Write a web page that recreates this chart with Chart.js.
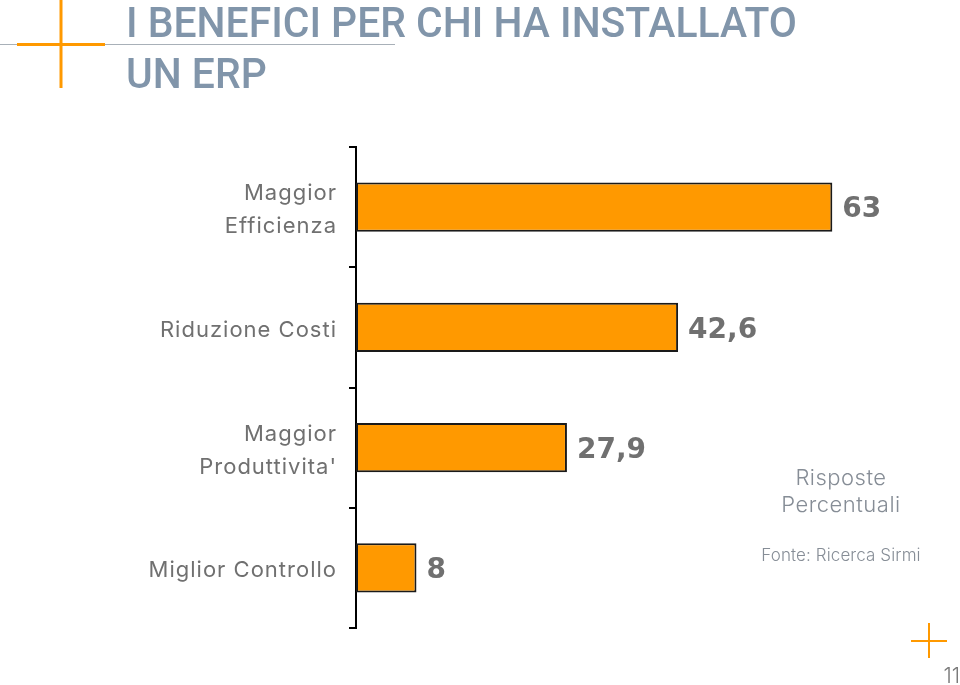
<!DOCTYPE html>
<html>
<head>
<meta charset="utf-8">
<script src="https://cdn.jsdelivr.net/npm/chart.js@4"></script>
<style>
html,body{margin:0;padding:0;background:#fff;}
#c{display:block;}
</style>
</head>
<body>
<canvas id="c" width="960" height="685"></canvas>
<script>
const categories = [["Maggior", "Efficienza"], "Riduzione Costi", ["Maggior", "Produttivita'"], "Miglior Controllo"];
const values = [63, 42.6, 27.9, 8];
const valueLabels = ["63", "42,6", "27,9", "8"];
const titleLines = ["I BENEFICI PER CHI HA INSTALLATO", "UN ERP"];
const noteLines = ["Risposte", "Percentuali"];
const sourceText = "Fonte: Ricerca Sirmi";
const pageNumber = "11";

const ORANGE = '#ff9900';

const decor = {
  id: 'decor',
  beforeDraw(chart) {
    const ctx = chart.ctx;
    ctx.save();
    ctx.fillStyle = '#fff';
    ctx.fillRect(0, 0, chart.width, chart.height);
    ctx.restore();
    ctx.letterSpacing = '1px';
  },
  afterDraw(chart) {
    const ctx = chart.ctx;
    ctx.save();
    ctx.letterSpacing = '0px';
    // grey rule
    ctx.strokeStyle = '#a8b0b8';
    ctx.lineWidth = 1;
    ctx.beginPath(); ctx.moveTo(0, 44.5); ctx.lineTo(395, 44.5); ctx.stroke();
    // top-left cross
    ctx.strokeStyle = ORANGE;
    ctx.lineWidth = 3;
    ctx.beginPath(); ctx.moveTo(17, 44.5); ctx.lineTo(105, 44.5); ctx.stroke();
    ctx.beginPath(); ctx.moveTo(61, 0); ctx.lineTo(61, 88); ctx.stroke();
    // bottom-right cross
    ctx.lineWidth = 2;
    ctx.beginPath(); ctx.moveTo(911, 641); ctx.lineTo(947, 641); ctx.stroke();
    ctx.beginPath(); ctx.moveTo(929, 623); ctx.lineTo(929, 658); ctx.stroke();

    // title
    ctx.fillStyle = '#8195aa';
    ctx.font = '500 42px Roboto';
    ctx.textBaseline = 'alphabetic';
    ctx.textAlign = 'left';
    const w1 = ctx.measureText(titleLines[0]).width;
    const sx = 671 / w1;
    ctx.save();
    ctx.translate(126, 37);
    ctx.scale(sx, 1);
    ctx.fillText(titleLines[0], 0, 0);
    ctx.fillText(titleLines[1], 0, 51);
    ctx.restore();

    // value labels
    const meta = chart.getDatasetMeta(0);
    ctx.fillStyle = '#707070';
    ctx.font = 'bold 28px "DejaVu Sans"';
    ctx.textAlign = 'left';
    ctx.textBaseline = 'middle';
    meta.data.forEach((bar, i) => {
      ctx.fillText(valueLabels[i], bar.x + 10, bar.y + 3);
    });

    // notes
    ctx.fillStyle = '#868d96';
    ctx.textAlign = 'center';
    ctx.letterSpacing = '0.5px';
    ctx.font = '300 22px Inter';
    ctx.fillText(noteLines[0], 841, 478);
    ctx.fillText(noteLines[1], 841, 505);
    ctx.letterSpacing = '0.1px';
    ctx.font = '300 17px Inter';
    ctx.fillText(sourceText, 841, 556);
    ctx.fillStyle = '#7a7a7a';
    ctx.font = '300 21px Inter';
    ctx.textAlign = 'right';
    ctx.letterSpacing = '0px';
    ctx.fillText(pageNumber, 960, 677);
    ctx.restore();
  }
};

new Chart(document.getElementById('c'), {
  type: 'bar',
  data: {
    labels: categories,
    datasets: [{
      data: values,
      backgroundColor: ORANGE,
      borderColor: '#1a1a1a',
      borderWidth: 2,
      borderSkipped: false,
      categoryPercentage: 0.41,
      barPercentage: 1.0
    }]
  },
  options: {
    indexAxis: 'y',
    responsive: false,
    animation: false,
    layout: { padding: { left: 0, top: 147, bottom: 57, right: 77 } },
    plugins: { legend: { display: false }, tooltip: { enabled: false } },
    scales: {
      x: { display: false, min: 0, max: 69.7 },
      y: {
        afterFit(s) { s.width = 356; },
        grid: { display: true, drawOnChartArea: false, drawTicks: true, tickLength: 7, color: '#000', lineWidth: 2, offset: true },
        border: { display: true, color: '#000', width: 2 },
        ticks: { color: '#707070', padding: 12, labelOffset: 3, font: { family: 'Inter', size: 22, lineHeight: 1.5 } }
      }
    }
  },
  plugins: [decor]
});
</script>
</body>
</html>
